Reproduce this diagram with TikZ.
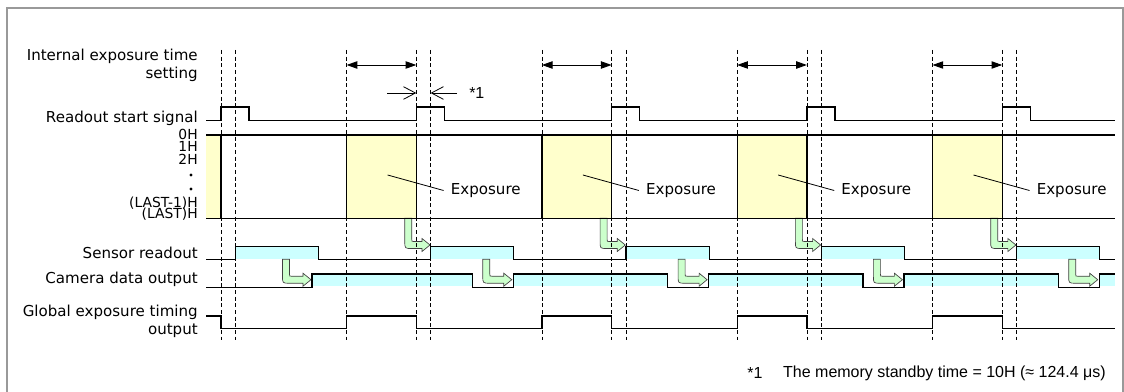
\documentclass[tikz,border=0pt]{standalone}
\usepackage{fontspec}
\setmainfont{DejaVu Sans}
\newfontfamily\notefont{Liberation Sans}
\usetikzlibrary{arrows.meta}
\definecolor{expyellow}{HTML}{FFFFCC}
\definecolor{readcyan}{HTML}{CCFFFF}
\definecolor{arrowgreen}{HTML}{CCFFCC}
\tikzset{
  sig/.style={line width=0.9pt},
  guide/.style={line width=0.5pt, dash pattern=on 3pt off 2pt},
  lbl/.style={anchor=east, inner sep=0pt, font=\fontsize{11.3}{13.5}\selectfont},
  hlbl/.style={anchor=east, inner sep=0pt, font=\fontsize{10.4}{12}\selectfont},
  greenarrow/.style={draw=black!75, fill=arrowgreen, line width=0.5pt},
}
\newcommand{\bendarrow}[4]{%
  \draw[greenarrow] (#1-3.5,#2) -- (#1-3.5,#3-3.5) .. controls (#1-3.5,#3+3.5) .. (#1+3.5,#3+3.5)
    -- (#4-8,#3+3.5) -- (#4-8,#3+6.5) -- (#4,#3) -- (#4-8,#3-6.5) -- (#4-8,#3-3.5)
    -- (#1+5.5,#3-3.5) .. controls (#1+3.5,#3-3.5) .. (#1+3.5,#3-5.5) -- (#1+3.5,#2) -- cycle;}
\begin{document}
\begin{tikzpicture}[x=0.75pt, y=-0.75pt, >=stealth]
\useasboundingbox (0,0) rectangle (1124,392);
\draw[line width=1.5pt, gray!80] (7,392) -- (7,8.5) -- (1122.5,8.5) -- (1122.5,392);

\node[lbl] (lblint) at (198,56) {Internal exposure time};
\node[lbl] (lblset) at (198,74) {setting};
\node[lbl] (lblread) at (198,118) {Readout start signal};
\node[hlbl] (lbl0) at (198,134.5) {0H};
\node[hlbl] (lbl1) at (198,146.5) {1H};
\node[hlbl] (lbl2) at (198,159.5) {2H};
\node[circle, fill, inner sep=0pt, minimum size=2.4pt] (dotA) at (191,175) {};
\node[circle, fill, inner sep=0pt, minimum size=2.4pt] (dotB) at (191,189) {};
\node[hlbl] (lbllm) at (198,203.5) {(LAST-1)H};
\node[hlbl] (lbll) at (198,214.5) {(LAST)H};
\node[lbl] (lblsen) at (198,252.5) {Sensor readout};
\node[lbl] (lblcam) at (198,279.5) {Camera data output};
\node[lbl] (lblglob) at (198,312.5) {Global exposure timing};
\node[lbl] (lblout) at (198,330.5) {output};

\fill[expyellow] (206,135) rectangle (221,218.3);
\foreach \e/\t in {346.6/416.3, 541.9/611.6, 737.2/806.9, 932.5/1002.2}
  \fill[expyellow] (\e,135) rectangle (\t,218.3);
\foreach \t in {221,416.3,611.6,806.9,1002.2}
  \fill[readcyan] (\t+14.3,246.5) rectangle (\t+97.5,259.3);
\foreach \a/\b in {312/472.3, 513.3/667.6, 708.6/862.9, 903.9/1058.2, 1099.2/1115}
  \fill[readcyan] (\a,274) rectangle (\b,286);

\foreach \t in {416.3,611.6,806.9,1002.2}
  \bendarrow{\t-8}{218.3}{245}{\t+13.7};
\bendarrow{286}{259.3}{279.7}{311};
\foreach \t in {416.3,611.6,806.9,1002.2}
  \bendarrow{\t+70}{259.3}{279.7}{\t+95.5};

\foreach \t in {221,416.3,611.6,806.9,1002.2}
  \draw[guide] (\t,50) -- (\t,340) (\t+14.3,50) -- (\t+14.3,340);
\foreach \e in {346.6,541.9,737.2,932.5}
  \draw[guide] (\e,50) -- (\e,340);

\draw[sig] (206,120.5) foreach \t in {221,416.3,611.6,806.9,1002.2}
  {-- (\t,120.5) -- (\t,107) -- (\t+28,107) -- (\t+28,120.5)} -- (1115,120.5);
\draw[sig] (206,135) -- (1115,135) (206,218.3) -- (1115,218.3);
\draw[sig] (221,135) -- (221,218.3);
\foreach \e/\t [count=\i] in {346.6/416.3, 541.9/611.6, 737.2/806.9, 932.5/1002.2} {
  \draw[sig] (\e,135) -- (\e,218.3) (\t,135) -- (\t,218.3);
  \draw[{Triangle[length=8pt,width=5.5pt]}-{Triangle[length=8pt,width=5.5pt]}, line width=0.7pt] (\e,65) -- (\t,65);
  \draw[line width=0.6pt] (\e+41,175) -- (\e+97,190.5);
  \node[anchor=west, inner sep=0pt, font=\fontsize{11.3}{13.5}\selectfont] (exp\i) at (\e+104,191) {Exposure};
}
\draw[sig] (206,259.3) foreach \t in {221,416.3,611.6,806.9,1002.2}
  {-- (\t+14.3,259.3) -- (\t+14.3,246.5) -- (\t+97.5,246.5) -- (\t+97.5,259.3)} -- (1115,259.3);
\draw[sig] (206,287.5) -- (312,287.5) -- (312,274) foreach \t in {416.3,611.6,806.9,1002.2}
  {-- (\t+56,274) -- (\t+56,287.5) -- (\t+97,287.5) -- (\t+97,274)} -- (1115,274);
\draw[sig] (206,316) -- (221,316) -- (221,328.5) foreach \e/\t in {346.6/416.3, 541.9/611.6, 737.2/806.9, 932.5/1002.2}
  {-- (\e,328.5) -- (\e,316) -- (\t,316) -- (\t,328.5)} -- (1115,328.5);

\coordinate (gapL) at (387,93);
\coordinate (gapR) at (457,93);
\draw[-{Straight Barb[length=9pt,width=9.5pt]}, line width=0.6pt] (gapL) -- (416.3,93);
\draw[-{Straight Barb[length=9pt,width=9.5pt]}, line width=0.6pt] (gapR) -- (430.6,93);
\node[anchor=west, inner sep=0pt, font=\notefont\fontsize{12}{14}\selectfont] (star) at (469,92.5) {*1};

\node[anchor=west, inner sep=0pt, font=\notefont\fontsize{12}{14}\selectfont] (notemark) at (747,373) {*1};
\node[anchor=east, inner sep=0pt, font=\notefont\fontsize{12}{14}\selectfont] (notetext) at (1106,373) {The memory standby time = 10H (≈ 124.4 μs)};
\end{tikzpicture}
\end{document}
